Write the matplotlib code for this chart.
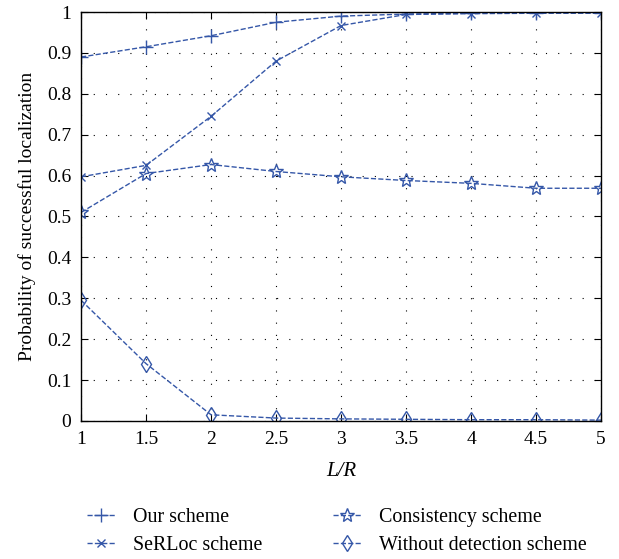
import matplotlib
matplotlib.use('Agg')
import matplotlib.pyplot as plt
import numpy as np

plt.rcParams['font.family'] = ['Liberation Serif', 'DejaVu Serif']

# data
lr = [1, 1.5, 2, 2.5, 3, 3.5, 4, 4.5, 5]
our_scheme = [0.89, 0.915, 0.942, 0.975, 0.99, 0.995, 0.997, 0.998, 0.998]
serloc = [0.597, 0.625, 0.745, 0.88, 0.967, 0.994, 0.996, 0.997, 0.997]
consistency = [0.51, 0.605, 0.627, 0.61, 0.597, 0.588, 0.581, 0.569, 0.569]
no_detection = [0.295, 0.14, 0.015, 0.007, 0.005, 0.004, 0.003, 0.003, 0.002]

blue = '#3557a8'

fig = plt.figure(figsize=(6.19, 5.59), dpi=100)
ax = fig.add_axes([0.131, 0.247, 0.84, 0.7315])

ax.plot(lr, our_scheme, '--', color=blue, marker='+', ms=10, mew=1.0, lw=1.0, label='Our scheme')
ax.plot(lr, serloc, '--', color=blue, marker='x', ms=6, mew=1.0, lw=1.0, label='SeRLoc scheme')
ax.plot(lr, consistency, '--', color=blue, marker='*', ms=10, mfc='none', mew=1.0, lw=1.0, label='Consistency scheme')
ax.plot(lr, no_detection, '--', color=blue, marker='d', ms=8, mfc='none', mew=1.0, lw=1.0, label='Without detection scheme')

ax.set_xlim(1, 5)
ax.set_ylim(0, 1)
ax.set_xticks(np.arange(1, 5.01, 0.5))
ax.set_xticklabels(['1', '1.5', '2', '2.5', '3', '3.5', '4', '4.5', '5'])
ax.set_yticks(np.arange(0, 1.01, 0.1))
ax.set_yticklabels(['0', '0.1', '0.2', '0.3', '0.4', '0.5', '0.6', '0.7', '0.8', '0.9', '1'])
ax.tick_params(direction='in', top=True, right=True, labelsize=14, length=5, pad=7)
ax.grid(True, linestyle=(0, (1, 10)), color='black', lw=0.8)
for s in ax.spines.values():
    s.set_linewidth(1.0)

ax.set_xlabel('L/R', fontsize=15, fontstyle='italic', labelpad=10)
ax.set_ylabel('Probability of successful localization', fontsize=14, labelpad=8)

fig.legend(loc='lower left', bbox_to_anchor=(0.112, -0.025), ncol=2, frameon=False, fontsize=14.4,
           handlelength=1.4, columnspacing=3.5, labelspacing=0.45, handletextpad=0.9)

fig.savefig('out.png', dpi=100)
